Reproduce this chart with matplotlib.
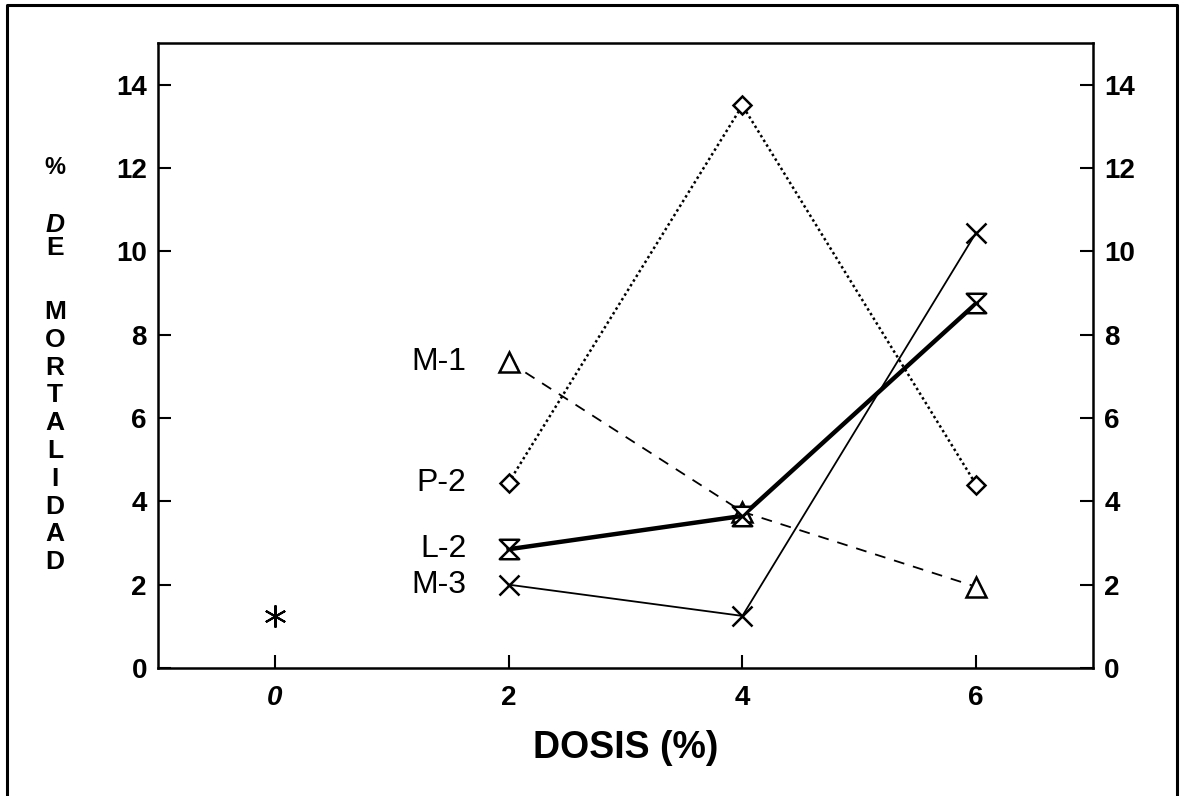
import matplotlib
matplotlib.use("Agg")
import matplotlib.pyplot as plt
from matplotlib.path import Path
from matplotlib.lines import Line2D

# Dosis (%) y porcentaje de mortalidad por linea
dosis = [2, 4, 6]
control_x = [0]
control_y = [1.25]
m1 = [7.35, 3.75, 1.95]
p2 = [4.45, 13.5, 4.4]
l2 = [2.85, 3.65, 8.75]
m3 = [2.0, 1.25, 10.45]
etiquetas = ["M-1", "P-2", "L-2", "M-3"]
x_ticks = [0, 2, 4, 6]
y_ticks = [0, 2, 4, 6, 8, 10, 12, 14]

plt.rcParams['font.family'] = ['Liberation Sans', 'DejaVu Sans']

# reloj de arena (triangulo arriba + abajo)
hourglass = Path([(-1, 1), (1, 1), (-1, -1), (1, -1), (-1, 1)],
                 [Path.MOVETO, Path.LINETO, Path.LINETO, Path.LINETO, Path.CLOSEPOLY])

fig = plt.figure(figsize=(11.8, 7.96), dpi=100)
ax = fig.add_axes([0.1339, 0.1608, 0.9263 - 0.1339, 0.946 - 0.1608])

mk = dict(color='black', markerfacecolor='white', markeredgecolor='black', markeredgewidth=1.8)
ax.plot(dosis, m1, linestyle=(0, (6, 5)), linewidth=1.3, marker='^', markersize=14, **mk)
ax.plot(dosis, p2, linestyle=(0, (1, 1.2)), linewidth=1.8, marker='D', markersize=9, **mk)
ax.plot(dosis, l2, linestyle='-', linewidth=3.2, marker=hourglass, markersize=14, **mk)
ax.plot(dosis, m3, linestyle='-', linewidth=1.3, marker='x', markersize=15, **mk)
ax.plot(control_x, control_y, linestyle='none', marker=(6, 2, 0), markersize=16,
        color='black', markeredgewidth=1.5)

# nombres de las lineas a la izquierda de x=2
for name, serie in zip(etiquetas, [m1, p2, l2, m3]):
    ax.text(1.64, serie[0], name, ha='right', va='center', fontsize=23)

ax.set_xlim(-1, 7)
ax.set_ylim(0, 15)
ax.set_xticks(x_ticks)
ax.set_yticks(y_ticks)
ax.tick_params(axis='both', direction='in', length=9.5, width=1.5, labelsize=20,
               right=True, labelright=True)
ax.tick_params(axis='y', pad=8)
ax.tick_params(axis='x', pad=12)
for lab in ax.get_xticklabels() + ax.yaxis.get_majorticklabels():
    lab.set_fontweight('bold')
ax.get_xticklabels()[0].set_fontstyle('italic')
for s in ax.spines.values():
    s.set_linewidth(1.8)

ax.set_xlabel('DOSIS (%)', fontsize=27, fontweight='bold', labelpad=14)

# etiqueta vertical apilada
fig.text(55 / 1180, 1 - 168 / 796, '%', ha='center', va='center', fontsize=17, fontweight='bold')
fig.text(55 / 1180, 1 - 225 / 796, 'D', ha='center', va='center', fontsize=19, fontweight='bold',
         fontstyle='italic')
fig.text(55 / 1180, 1 - 248 / 796, 'E', ha='center', va='center', fontsize=19, fontweight='bold')
for i, ch in enumerate('MORTALIDAD'):
    fig.text(55 / 1180, 1 - (312 + i * 27.8) / 796, ch, ha='center', va='center',
             fontsize=19, fontweight='bold')

# marco exterior
fx = [7 / 1180, 7 / 1180, 1177 / 1180, 1177 / 1180]
fy = [0, 1 - 5 / 796, 1 - 5 / 796, 0]
fig.add_artist(Line2D(fx, fy, transform=fig.transFigure, color='black', linewidth=2.2))

fig.savefig('out.png', dpi=100)
